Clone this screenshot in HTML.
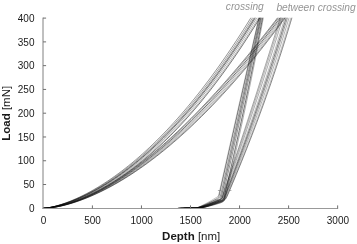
<!DOCTYPE html>
<html><head><meta charset="utf-8"><title>Load-Depth</title>
<style>
html,body{margin:0;padding:0;background:#fff;}
body{width:357px;height:244px;overflow:hidden;position:relative;font-family:"Liberation Sans",Arial,sans-serif;}
svg{position:absolute;left:0;top:0;}
text{font-family:"Liberation Sans",Arial,sans-serif;}
</style></head><body>
<svg width="357" height="244" viewBox="0 0 357 244">
<rect width="357" height="244" fill="#fff"/>
<defs><clipPath id="c"><rect x="43" y="17.7" width="300" height="191"/></clipPath></defs>
<g clip-path="url(#c)" fill="none" stroke-linejoin="round">
<g stroke="#0a0a0a" stroke-width="0.62">
<path d="M43.35,208.30 L44.58,208.23 L45.80,208.12 L47.03,207.98 L48.26,207.81 L49.48,207.63 L50.71,207.43 L51.93,207.21 L53.16,206.98 L54.39,206.73 L55.61,206.48 L56.84,206.20 L58.07,205.92 L59.29,205.62 L60.52,205.31 L61.74,204.99 L62.97,204.66 L64.20,204.32 L65.42,203.96 L66.65,203.59 L67.88,203.21 L69.10,202.83 L70.33,202.42 L71.55,202.01 L72.78,201.59 L76.26,200.34 L79.75,199.00 L83.23,197.57 L86.71,196.06 L90.20,194.47 L93.68,192.80 L97.16,191.05 L100.65,189.22 L104.13,187.31 L107.61,185.31 L111.10,183.24 L114.58,181.09 L118.06,178.86 L121.55,176.54 L125.03,174.15 L128.51,171.68 L132.00,169.12 L135.48,166.49 L138.96,163.77 L142.45,160.98 L145.93,158.10 L149.41,155.14 L152.89,152.11 L156.38,148.99 L159.86,145.79 L163.34,142.50 L166.83,139.14 L170.31,135.69 L173.79,132.16 L177.28,128.55 L180.76,124.85 L184.24,121.07 L187.73,117.21 L191.21,113.26 L194.69,109.23 L198.18,105.11 L201.66,100.91 L205.14,96.62 L208.63,92.25 L212.11,87.80 L215.59,83.25 L219.08,78.62 L222.56,73.91 L226.04,69.10 L229.53,64.21 L233.01,59.23 L236.49,54.17 L239.98,49.01 L243.46,43.77 L246.94,38.44 L250.43,33.01 L253.91,27.50 L257.39,21.90 L260.88,16.21 L264.36,10.43 L267.84,4.55 L271.33,-1.41 L274.81,-7.47 L278.29,-13.62 L281.78,-19.86 L285.26,-26.19 L288.74,-32.62 L292.23,-39.14 L295.71,-45.75 L299.19,-52.46 L302.68,-59.26 L306.16,-66.16 L309.64,-73.15 L313.13,-80.24" stroke-opacity="0.91"/>
<path d="M43.35,208.30 L44.58,208.24 L45.80,208.12 L47.03,207.97 L48.26,207.81 L49.48,207.62 L50.71,207.41 L51.93,207.19 L53.16,206.95 L54.39,206.69 L55.61,206.43 L56.84,206.15 L58.07,205.85 L59.29,205.54 L60.52,205.23 L61.74,204.89 L62.97,204.55 L64.20,204.19 L65.42,203.83 L66.65,203.45 L67.88,203.06 L69.10,202.66 L70.33,202.25 L71.55,201.82 L72.78,201.39 L76.26,200.10 L79.75,198.72 L83.23,197.26 L86.71,195.72 L90.20,194.09 L93.68,192.38 L97.16,190.59 L100.65,188.72 L104.13,186.77 L107.61,184.74 L111.10,182.63 L114.58,180.44 L118.06,178.16 L121.55,175.81 L125.03,173.38 L128.51,170.87 L132.00,168.27 L135.48,165.60 L138.96,162.85 L142.45,160.01 L145.93,157.10 L149.41,154.11 L152.89,151.03 L156.38,147.87 L159.86,144.63 L163.34,141.31 L166.83,137.91 L170.31,134.43 L173.79,130.86 L177.28,127.21 L180.76,123.48 L184.24,119.67 L187.73,115.77 L191.21,111.79 L194.69,107.72 L198.18,103.57 L201.66,99.34 L205.14,95.02 L208.63,90.61 L212.11,86.12 L215.59,81.55 L219.08,76.89 L222.56,72.14 L226.04,67.31 L229.53,62.39 L233.01,57.38 L236.49,52.29 L239.98,47.10 L243.46,41.83 L246.94,36.47 L250.43,31.03 L253.91,25.49 L257.39,19.86 L260.88,14.15 L264.36,8.34 L267.84,2.44 L271.33,-3.54 L274.81,-9.62 L278.29,-15.79 L281.78,-22.05 L285.26,-28.41 L288.74,-34.85 L292.23,-41.39 L295.71,-48.02 L299.19,-54.75 L302.68,-61.57 L306.16,-68.48 L309.64,-75.49 L313.13,-82.59" stroke-opacity="0.49"/>
<path d="M43.35,208.30 L44.58,208.24 L45.80,208.12 L47.03,207.97 L48.26,207.80 L49.48,207.60 L50.71,207.38 L51.93,207.15 L53.16,206.90 L54.39,206.64 L55.61,206.36 L56.84,206.06 L58.07,205.75 L59.29,205.43 L60.52,205.10 L61.74,204.75 L62.97,204.39 L64.20,204.02 L65.42,203.64 L66.65,203.24 L67.88,202.84 L69.10,202.42 L70.33,201.99 L71.55,201.55 L72.78,201.10 L76.26,199.76 L79.75,198.33 L83.23,196.82 L86.71,195.22 L90.20,193.54 L93.68,191.78 L97.16,189.94 L100.65,188.01 L104.13,186.00 L107.61,183.92 L111.10,181.75 L114.58,179.50 L118.06,177.17 L121.55,174.76 L125.03,172.28 L128.51,169.71 L132.00,167.06 L135.48,164.33 L138.96,161.52 L142.45,158.63 L145.93,155.67 L149.41,152.62 L152.89,149.49 L156.38,146.27 L159.86,142.98 L163.34,139.61 L166.83,136.15 L170.31,132.62 L173.79,129.00 L177.28,125.30 L180.76,121.52 L184.24,117.65 L187.73,113.70 L191.21,109.67 L194.69,105.56 L198.18,101.36 L201.66,97.08 L205.14,92.71 L208.63,88.26 L212.11,83.73 L215.59,79.11 L219.08,74.40 L222.56,69.61 L226.04,64.74 L229.53,59.78 L233.01,54.73 L236.49,49.59 L239.98,44.37 L243.46,39.06 L246.94,33.66 L250.43,28.18 L253.91,22.60 L257.39,16.94 L260.88,11.19 L264.36,5.35 L267.84,-0.58 L271.33,-6.60 L274.81,-12.71 L278.29,-18.91 L281.78,-25.20 L285.26,-31.58 L288.74,-38.05 L292.23,-44.62 L295.71,-51.28 L299.19,-58.03 L302.68,-64.87 L306.16,-71.81 L309.64,-78.84 L313.13,-85.96" stroke-opacity="0.51"/>
<path d="M43.35,208.30 L44.58,208.24 L45.80,208.12 L47.03,207.97 L48.26,207.79 L49.48,207.59 L50.71,207.36 L51.93,207.12 L53.16,206.86 L54.39,206.58 L55.61,206.29 L56.84,205.99 L58.07,205.67 L59.29,205.33 L60.52,204.99 L61.74,204.63 L62.97,204.25 L64.20,203.87 L65.42,203.47 L66.65,203.06 L67.88,202.64 L69.10,202.21 L70.33,201.77 L71.55,201.31 L72.78,200.84 L76.26,199.46 L79.75,197.99 L83.23,196.43 L86.71,194.78 L90.20,193.05 L93.68,191.24 L97.16,189.35 L100.65,187.38 L104.13,185.32 L107.61,183.18 L111.10,180.97 L114.58,178.67 L118.06,176.29 L121.55,173.83 L125.03,171.29 L128.51,168.68 L132.00,165.98 L135.48,163.20 L138.96,160.34 L142.45,157.41 L145.93,154.39 L149.41,151.29 L152.89,148.11 L156.38,144.85 L159.86,141.51 L163.34,138.09 L166.83,134.59 L170.31,131.01 L173.79,127.34 L177.28,123.60 L180.76,119.77 L184.24,115.86 L187.73,111.87 L191.21,107.79 L194.69,103.63 L198.18,99.39 L201.66,95.07 L205.14,90.66 L208.63,86.17 L212.11,81.60 L215.59,76.94 L219.08,72.19 L222.56,67.36 L226.04,62.45 L229.53,57.45 L233.01,52.36 L236.49,47.19 L239.98,41.94 L243.46,36.59 L246.94,31.16 L250.43,25.64 L253.91,20.04 L257.39,14.34 L260.88,8.56 L264.36,2.69 L267.84,-3.27 L271.33,-9.32 L274.81,-15.46 L278.29,-21.68 L281.78,-28.00 L285.26,-34.41 L288.74,-40.91 L292.23,-47.50 L295.71,-54.18 L299.19,-60.95 L302.68,-67.81 L306.16,-74.77 L309.64,-81.82 L313.13,-88.96" stroke-opacity="0.92"/>
<path d="M43.35,208.30 L44.58,208.24 L45.80,208.13 L47.03,207.97 L48.26,207.79 L49.48,207.58 L50.71,207.35 L51.93,207.10 L53.16,206.83 L54.39,206.55 L55.61,206.25 L56.84,205.93 L58.07,205.61 L59.29,205.26 L60.52,204.91 L61.74,204.54 L62.97,204.16 L64.20,203.76 L65.42,203.35 L66.65,202.94 L67.88,202.51 L69.10,202.06 L70.33,201.61 L71.55,201.14 L72.78,200.67 L76.26,199.25 L79.75,197.74 L83.23,196.15 L86.71,194.48 L90.20,192.72 L93.68,190.87 L97.16,188.95 L100.65,186.94 L104.13,184.85 L107.61,182.68 L111.10,180.42 L114.58,178.09 L118.06,175.68 L121.55,173.19 L125.03,170.62 L128.51,167.96 L132.00,165.23 L135.48,162.42 L138.96,159.53 L142.45,156.56 L145.93,153.50 L149.41,150.37 L152.89,147.16 L156.38,143.87 L159.86,140.49 L163.34,137.04 L166.83,133.51 L170.31,129.89 L173.79,126.20 L177.28,122.42 L180.76,118.56 L184.24,114.62 L187.73,110.60 L191.21,106.49 L194.69,102.30 L198.18,98.03 L201.66,93.68 L205.14,89.24 L208.63,84.72 L212.11,80.12 L215.59,75.43 L219.08,70.66 L222.56,65.81 L226.04,60.87 L229.53,55.84 L233.01,50.73 L236.49,45.53 L239.98,40.25 L243.46,34.88 L246.94,29.43 L250.43,23.89 L253.91,18.26 L257.39,12.54 L260.88,6.74 L264.36,0.85 L267.84,-5.13 L271.33,-11.20 L274.81,-17.35 L278.29,-23.60 L281.78,-29.94 L285.26,-36.36 L288.74,-42.88 L292.23,-49.48 L295.71,-56.18 L299.19,-62.97 L302.68,-69.85 L306.16,-76.82 L309.64,-83.88 L313.13,-91.03" stroke-opacity="0.76"/>
<path d="M43.35,208.30 L44.58,208.25 L45.80,208.13 L47.03,207.97 L48.26,207.78 L49.48,207.56 L50.71,207.32 L51.93,207.07 L53.16,206.79 L54.39,206.49 L55.61,206.18 L56.84,205.86 L58.07,205.52 L59.29,205.16 L60.52,204.79 L61.74,204.41 L62.97,204.01 L64.20,203.61 L65.42,203.19 L66.65,202.75 L67.88,202.31 L69.10,201.85 L70.33,201.38 L71.55,200.90 L72.78,200.41 L76.26,198.94 L79.75,197.39 L83.23,195.76 L86.71,194.03 L90.20,192.22 L93.68,190.33 L97.16,188.35 L100.65,186.30 L104.13,184.16 L107.61,181.94 L111.10,179.63 L114.58,177.25 L118.06,174.79 L121.55,172.25 L125.03,169.63 L128.51,166.92 L132.00,164.14 L135.48,161.28 L138.96,158.34 L142.45,155.32 L145.93,152.22 L149.41,149.03 L152.89,145.77 L156.38,142.43 L159.86,139.01 L163.34,135.51 L166.83,131.93 L170.31,128.27 L173.79,124.52 L177.28,120.70 L180.76,116.80 L184.24,112.81 L187.73,108.74 L191.21,104.59 L194.69,100.36 L198.18,96.05 L201.66,91.65 L205.14,87.18 L208.63,82.62 L212.11,77.97 L215.59,73.24 L219.08,68.43 L222.56,63.54 L226.04,58.56 L229.53,53.50 L233.01,48.35 L236.49,43.12 L239.98,37.80 L243.46,32.40 L246.94,26.91 L250.43,21.33 L253.91,15.67 L257.39,9.92 L260.88,4.09 L264.36,-1.83 L267.84,-7.84 L271.33,-13.94 L274.81,-20.12 L278.29,-26.40 L281.78,-32.76 L285.26,-39.21 L288.74,-45.75 L292.23,-52.38 L295.71,-59.10 L299.19,-65.91 L302.68,-72.81 L306.16,-79.80 L309.64,-86.88 L313.13,-94.06" stroke-opacity="0.63"/>
<path d="M43.35,208.30 L44.58,208.25 L45.80,208.13 L47.03,207.97 L48.26,207.77 L49.48,207.55 L50.71,207.30 L51.93,207.03 L53.16,206.74 L54.39,206.44 L55.61,206.11 L56.84,205.77 L58.07,205.42 L59.29,205.05 L60.52,204.67 L61.74,204.27 L62.97,203.86 L64.20,203.43 L65.42,203.00 L66.65,202.55 L67.88,202.09 L69.10,201.61 L70.33,201.13 L71.55,200.63 L72.78,200.12 L76.26,198.61 L79.75,197.01 L83.23,195.32 L86.71,193.54 L90.20,191.68 L93.68,189.73 L97.16,187.70 L100.65,185.59 L104.13,183.39 L107.61,181.12 L111.10,178.76 L114.58,176.32 L118.06,173.81 L121.55,171.21 L125.03,168.53 L128.51,165.77 L132.00,162.94 L135.48,160.02 L138.96,157.02 L142.45,153.95 L145.93,150.79 L149.41,147.56 L152.89,144.24 L156.38,140.85 L159.86,137.37 L163.34,133.82 L166.83,130.19 L170.31,126.47 L173.79,122.68 L177.28,118.80 L180.76,114.85 L184.24,110.81 L187.73,106.69 L191.21,102.50 L194.69,98.22 L198.18,93.86 L201.66,89.41 L205.14,84.89 L208.63,80.28 L212.11,75.59 L215.59,70.82 L219.08,65.97 L222.56,61.03 L226.04,56.01 L229.53,50.90 L233.01,45.72 L236.49,40.44 L239.98,35.09 L243.46,29.64 L246.94,24.12 L250.43,18.51 L253.91,12.81 L257.39,7.02 L260.88,1.16 L264.36,-4.80 L267.84,-10.84 L271.33,-16.97 L274.81,-23.19 L278.29,-29.49 L281.78,-35.88 L285.26,-42.36 L288.74,-48.93 L292.23,-55.58 L295.71,-62.33 L299.19,-69.16 L302.68,-76.09 L306.16,-83.10 L309.64,-90.21 L313.13,-97.40" stroke-opacity="0.71"/>
<path d="M265.91,-12.00 L264.94,-7.72 L263.97,-3.44 L263.01,0.84 L262.04,5.12 L261.07,9.40 L260.11,13.68 L259.14,17.96 L258.17,22.24 L257.20,26.52 L256.24,30.80 L255.27,35.09 L254.31,39.37 L253.34,43.65 L252.37,47.93 L251.41,52.21 L250.44,56.49 L249.48,60.77 L248.51,65.05 L247.54,69.33 L246.58,73.61 L245.61,77.89 L244.65,82.17 L243.68,86.45 L242.72,90.73 L241.75,95.01 L240.79,99.29 L239.82,103.57 L238.86,107.85 L237.89,112.13 L236.93,116.41 L235.97,120.69 L235.00,124.98 L234.04,129.26 L233.07,133.54 L232.11,137.82 L231.15,142.10 L230.18,146.38 L229.22,150.66 L228.25,154.94 L227.29,159.22 L226.33,163.50 L225.36,167.78 L224.40,172.06 L223.44,176.34 L222.48,180.62 L221.51,184.90 L220.55,189.18 L219.59,193.46 L219.06,195.79 L218.91,196.33 L218.70,196.83 L218.44,197.28 L218.13,197.69 L217.76,198.07 L217.34,198.40 L216.86,198.69 L216.21,199.04 L215.01,199.67 L213.80,200.30 L212.60,200.92 L211.39,201.53 L210.19,202.13 L208.98,202.72 L207.78,203.31 L206.57,203.88 L205.37,204.43 L204.16,204.98 L202.96,205.50 L201.75,206.01 L200.55,206.50 L199.34,206.97 L198.14,207.41 L196.93,207.80 L195.73,208.10 L180.50,208.20" stroke-opacity="0.79"/>
<path d="M266.53,-12.00 L265.60,-7.71 L264.67,-3.42 L263.74,0.87 L262.81,5.16 L261.87,9.46 L260.94,13.75 L260.00,18.04 L259.07,22.33 L258.13,26.62 L257.19,30.91 L256.26,35.20 L255.32,39.49 L254.38,43.78 L253.43,48.08 L252.49,52.37 L251.55,56.66 L250.61,60.95 L249.66,65.24 L248.71,69.53 L247.77,73.82 L246.82,78.11 L245.87,82.40 L244.92,86.69 L243.97,90.99 L243.02,95.28 L242.07,99.57 L241.11,103.86 L240.16,108.15 L239.21,112.44 L238.25,116.73 L237.29,121.02 L236.33,125.31 L235.38,129.61 L234.42,133.90 L233.46,138.19 L232.49,142.48 L231.53,146.77 L230.57,151.06 L229.60,155.35 L228.64,159.64 L227.67,163.93 L226.71,168.23 L225.74,172.52 L224.77,176.81 L223.80,181.10 L222.83,185.39 L221.86,189.68 L220.88,193.97 L220.35,196.31 L220.20,196.85 L219.99,197.34 L219.72,197.79 L219.40,198.19 L219.03,198.55 L218.60,198.87 L218.11,199.14 L217.38,199.49 L216.11,200.10 L214.84,200.69 L213.57,201.28 L212.31,201.86 L211.04,202.43 L209.77,202.99 L208.50,203.55 L207.24,204.09 L205.97,204.62 L204.70,205.13 L203.44,205.63 L202.17,206.12 L200.90,206.58 L199.63,207.03 L198.37,207.44 L197.10,207.81 L195.83,208.10 L184.32,208.20" stroke-opacity="0.71"/>
<path d="M267.02,-12.00 L266.12,-7.70 L265.22,-3.39 L264.32,0.91 L263.41,5.21 L262.50,9.52 L261.60,13.82 L260.69,18.12 L259.77,22.43 L258.86,26.73 L257.94,31.04 L257.03,35.34 L256.11,39.64 L255.19,43.95 L254.27,48.25 L253.34,52.55 L252.42,56.86 L251.49,61.16 L250.56,65.46 L249.63,69.77 L248.70,74.07 L247.76,78.37 L246.82,82.68 L245.89,86.98 L244.95,91.28 L244.00,95.59 L243.06,99.89 L242.12,104.20 L241.17,108.50 L240.22,112.80 L239.27,117.11 L238.32,121.41 L237.37,125.71 L236.41,130.02 L235.45,134.32 L234.49,138.62 L233.53,142.93 L232.57,147.23 L231.61,151.53 L230.64,155.84 L229.67,160.14 L228.70,164.44 L227.73,168.75 L226.76,173.05 L225.78,177.35 L224.81,181.66 L223.83,185.96 L222.85,190.27 L221.87,194.57 L221.33,196.92 L221.17,197.46 L220.96,197.94 L220.69,198.38 L220.37,198.78 L219.99,199.13 L219.55,199.43 L219.05,199.68 L218.27,200.03 L216.96,200.59 L215.65,201.15 L214.34,201.70 L213.03,202.25 L211.73,202.78 L210.42,203.31 L209.11,203.83 L207.80,204.34 L206.50,204.83 L205.19,205.32 L203.88,205.79 L202.57,206.24 L201.26,206.68 L199.96,207.09 L198.65,207.48 L197.34,207.83 L196.03,208.10 L181.47,208.20" stroke-opacity="0.86"/>
<path d="M267.57,-12.00 L266.71,-7.70 L265.84,-3.39 L264.97,0.91 L264.10,5.21 L263.23,9.51 L262.35,13.82 L261.47,18.12 L260.59,22.42 L259.70,26.72 L258.82,31.03 L257.93,35.33 L257.03,39.63 L256.14,43.94 L255.24,48.24 L254.34,52.54 L253.44,56.84 L252.53,61.15 L251.62,65.45 L250.71,69.75 L249.80,74.06 L248.88,78.36 L247.96,82.66 L247.04,86.96 L246.11,91.27 L245.19,95.57 L244.26,99.87 L243.33,104.17 L242.39,108.48 L241.45,112.78 L240.51,117.08 L239.57,121.39 L238.62,125.69 L237.67,129.99 L236.72,134.29 L235.77,138.60 L234.81,142.90 L233.85,147.20 L232.89,151.50 L231.93,155.81 L230.96,160.11 L229.99,164.41 L229.02,168.72 L228.04,173.02 L227.06,177.32 L226.08,181.62 L225.10,185.93 L224.11,190.23 L223.13,194.53 L222.58,196.89 L222.43,197.42 L222.21,197.91 L221.94,198.34 L221.62,198.73 L221.23,199.08 L220.79,199.37 L220.30,199.62 L219.42,199.99 L218.06,200.56 L216.71,201.12 L215.35,201.68 L213.99,202.22 L212.63,202.76 L211.28,203.29 L209.92,203.81 L208.56,204.32 L207.21,204.82 L205.85,205.30 L204.49,205.78 L203.14,206.23 L201.78,206.67 L200.42,207.09 L199.06,207.48 L197.71,207.83 L196.35,208.10 L185.12,208.20" stroke-opacity="0.72"/>
<path d="M268.30,-12.00 L267.48,-7.68 L266.66,-3.37 L265.84,0.95 L265.01,5.27 L264.17,9.59 L263.34,13.90 L262.49,18.22 L261.65,22.54 L260.80,26.85 L259.95,31.17 L259.09,35.49 L258.23,39.80 L257.37,44.12 L256.50,48.44 L255.62,52.76 L254.75,57.07 L253.87,61.39 L252.98,65.71 L252.09,70.02 L251.20,74.34 L250.31,78.66 L249.41,82.98 L248.50,87.29 L247.59,91.61 L246.68,95.93 L245.77,100.24 L244.85,104.56 L243.92,108.88 L243.00,113.20 L242.07,117.51 L241.13,121.83 L240.19,126.15 L239.25,130.46 L238.30,134.78 L237.35,139.10 L236.40,143.41 L235.44,147.73 L234.47,152.05 L233.51,156.37 L232.54,160.68 L231.56,165.00 L230.59,169.32 L229.60,173.63 L228.62,177.95 L227.63,182.27 L226.63,186.59 L225.64,190.90 L224.63,195.22 L224.08,197.59 L223.92,198.12 L223.71,198.60 L223.43,199.03 L223.10,199.41 L222.71,199.74 L222.26,200.02 L221.76,200.25 L220.82,200.61 L219.41,201.13 L218.01,201.65 L216.60,202.16 L215.20,202.67 L213.79,203.17 L212.39,203.66 L210.99,204.14 L209.58,204.61 L208.18,205.07 L206.77,205.52 L205.37,205.95 L203.96,206.37 L202.56,206.78 L201.15,207.17 L199.75,207.53 L198.34,207.85 L196.94,208.10 L183.22,208.20" stroke-opacity="0.94"/>
<path d="M268.82,-12.00 L268.03,-7.68 L267.24,-3.36 L266.45,0.97 L265.65,5.29 L264.84,9.61 L264.04,13.93 L263.22,18.25 L262.40,22.57 L261.58,26.90 L260.75,31.22 L259.92,35.54 L259.08,39.86 L258.24,44.18 L257.40,48.50 L256.54,52.83 L255.69,57.15 L254.83,61.47 L253.96,65.79 L253.09,70.11 L252.21,74.43 L251.33,78.76 L250.45,83.08 L249.56,87.40 L248.66,91.72 L247.76,96.04 L246.86,100.36 L245.95,104.69 L245.04,109.01 L244.12,113.33 L243.19,117.65 L242.27,121.97 L241.33,126.29 L240.39,130.62 L239.45,134.94 L238.50,139.26 L237.55,143.58 L236.60,147.90 L235.63,152.22 L234.67,156.55 L233.70,160.87 L232.72,165.19 L231.74,169.51 L230.75,173.83 L229.76,178.15 L228.77,182.48 L227.77,186.80 L226.76,191.12 L225.75,195.44 L225.19,197.81 L225.03,198.35 L224.82,198.83 L224.54,199.26 L224.21,199.63 L223.82,199.96 L223.37,200.24 L222.87,200.47 L221.95,200.80 L220.56,201.32 L219.17,201.82 L217.77,202.32 L216.38,202.81 L214.99,203.30 L213.59,203.77 L212.20,204.24 L210.81,204.70 L209.42,205.15 L208.02,205.58 L206.63,206.01 L205.24,206.42 L203.84,206.81 L202.45,207.19 L201.06,207.54 L199.66,207.86 L198.27,208.10 L179.35,208.20" stroke-opacity="0.55"/>
<path d="M43.35,208.30 L44.58,208.29 L45.80,208.24 L47.03,208.17 L48.26,208.07 L49.48,207.95 L50.71,207.82 L51.93,207.66 L53.16,207.49 L54.39,207.30 L55.61,207.10 L56.84,206.88 L58.07,206.65 L59.29,206.40 L60.52,206.15 L61.74,205.87 L62.97,205.59 L64.20,205.29 L65.42,204.99 L66.65,204.67 L67.88,204.33 L69.10,203.99 L70.33,203.64 L71.55,203.27 L72.78,202.90 L76.26,201.77 L79.75,200.57 L83.23,199.28 L86.71,197.92 L90.20,196.48 L93.68,194.97 L97.16,193.39 L100.65,191.74 L104.13,190.01 L107.61,188.22 L111.10,186.36 L114.58,184.44 L118.06,182.45 L121.55,180.39 L125.03,178.27 L128.51,176.09 L132.00,173.84 L135.48,171.53 L138.96,169.16 L142.45,166.73 L145.93,164.24 L149.41,161.68 L152.89,159.07 L156.38,156.40 L159.86,153.66 L163.34,150.87 L166.83,148.02 L170.31,145.11 L173.79,142.15 L177.28,139.12 L180.76,136.04 L184.24,132.90 L187.73,129.70 L191.21,126.45 L194.69,123.14 L198.18,119.77 L201.66,116.34 L205.14,112.86 L208.63,109.33 L212.11,105.73 L215.59,102.08 L219.08,98.38 L222.56,94.62 L226.04,90.80 L229.53,86.93 L233.01,83.01 L236.49,79.02 L239.98,74.99 L243.46,70.90 L246.94,66.75 L250.43,62.55 L253.91,58.29 L257.39,53.98 L260.88,49.62 L264.36,45.20 L267.84,40.72 L271.33,36.19 L274.81,31.61 L278.29,26.97 L281.78,22.28 L285.26,17.54 L288.74,12.74 L292.23,7.89 L295.71,2.98 L299.19,-1.98 L302.68,-7.00 L306.16,-12.06 L309.64,-17.19 L313.13,-22.36" stroke-opacity="0.80"/>
<path d="M43.35,208.30 L44.58,208.27 L45.80,208.22 L47.03,208.14 L48.26,208.04 L49.48,207.92 L50.71,207.78 L51.93,207.62 L53.16,207.45 L54.39,207.26 L55.61,207.05 L56.84,206.83 L58.07,206.60 L59.29,206.35 L60.52,206.09 L61.74,205.81 L62.97,205.52 L64.20,205.22 L65.42,204.91 L66.65,204.59 L67.88,204.25 L69.10,203.90 L70.33,203.55 L71.55,203.18 L72.78,202.80 L76.26,201.66 L79.75,200.43 L83.23,199.13 L86.71,197.75 L90.20,196.29 L93.68,194.76 L97.16,193.15 L100.65,191.47 L104.13,189.72 L107.61,187.91 L111.10,186.02 L114.58,184.07 L118.06,182.05 L121.55,179.96 L125.03,177.81 L128.51,175.59 L132.00,173.32 L135.48,170.98 L138.96,168.57 L142.45,166.11 L145.93,163.58 L149.41,161.00 L152.89,158.35 L156.38,155.64 L159.86,152.88 L163.34,150.06 L166.83,147.17 L170.31,144.23 L173.79,141.23 L177.28,138.18 L180.76,135.07 L184.24,131.90 L187.73,128.67 L191.21,125.39 L194.69,122.05 L198.18,118.66 L201.66,115.21 L205.14,111.70 L208.63,108.14 L212.11,104.53 L215.59,100.86 L219.08,97.14 L222.56,93.36 L226.04,89.53 L229.53,85.64 L233.01,81.70 L236.49,77.71 L239.98,73.66 L243.46,69.56 L246.94,65.41 L250.43,61.20 L253.91,56.95 L257.39,52.63 L260.88,48.27 L264.36,43.86 L267.84,39.39 L271.33,34.87 L274.81,30.29 L278.29,25.67 L281.78,20.99 L285.26,16.27 L288.74,11.49 L292.23,6.66 L295.71,1.77 L299.19,-3.16 L302.68,-8.15 L306.16,-13.18 L309.64,-18.27 L313.13,-23.41" stroke-opacity="0.62"/>
<path d="M43.35,208.30 L44.58,208.26 L45.80,208.20 L47.03,208.12 L48.26,208.01 L49.48,207.88 L50.71,207.74 L51.93,207.57 L53.16,207.39 L54.39,207.20 L55.61,206.99 L56.84,206.76 L58.07,206.52 L59.29,206.27 L60.52,206.00 L61.74,205.72 L62.97,205.43 L64.20,205.12 L65.42,204.81 L66.65,204.48 L67.88,204.13 L69.10,203.78 L70.33,203.42 L71.55,203.04 L72.78,202.65 L76.26,201.49 L79.75,200.25 L83.23,198.92 L86.71,197.51 L90.20,196.02 L93.68,194.46 L97.16,192.82 L100.65,191.11 L104.13,189.32 L107.61,187.47 L111.10,185.54 L114.58,183.55 L118.06,181.49 L121.55,179.36 L125.03,177.17 L128.51,174.91 L132.00,172.59 L135.48,170.20 L138.96,167.75 L142.45,165.24 L145.93,162.67 L149.41,160.04 L152.89,157.35 L156.38,154.60 L159.86,151.79 L163.34,148.92 L166.83,145.99 L170.31,143.01 L173.79,139.96 L177.28,136.87 L180.76,133.71 L184.24,130.50 L187.73,127.23 L191.21,123.91 L194.69,120.54 L198.18,117.11 L201.66,113.62 L205.14,110.09 L208.63,106.49 L212.11,102.85 L215.59,99.15 L219.08,95.40 L222.56,91.60 L226.04,87.75 L229.53,83.84 L233.01,79.88 L236.49,75.87 L239.98,71.82 L243.46,67.70 L246.94,63.54 L250.43,59.33 L253.91,55.07 L257.39,50.76 L260.88,46.40 L264.36,41.99 L267.84,37.53 L271.33,33.02 L274.81,28.46 L278.29,23.85 L281.78,19.20 L285.26,14.49 L288.74,9.74 L292.23,4.94 L295.71,0.09 L299.19,-4.80 L302.68,-9.75 L306.16,-14.74 L309.64,-19.78 L313.13,-24.86" stroke-opacity="0.46"/>
<path d="M43.35,208.30 L44.58,208.25 L45.80,208.18 L47.03,208.09 L48.26,207.97 L49.48,207.84 L50.71,207.69 L51.93,207.52 L53.16,207.34 L54.39,207.14 L55.61,206.92 L56.84,206.69 L58.07,206.45 L59.29,206.19 L60.52,205.92 L61.74,205.63 L62.97,205.33 L64.20,205.02 L65.42,204.70 L66.65,204.37 L67.88,204.02 L69.10,203.66 L70.33,203.29 L71.55,202.90 L72.78,202.51 L76.26,201.33 L79.75,200.06 L83.23,198.71 L86.71,197.27 L90.20,195.76 L93.68,194.16 L97.16,192.49 L100.65,190.75 L104.13,188.93 L107.61,187.03 L111.10,185.07 L114.58,183.04 L118.06,180.94 L121.55,178.77 L125.03,176.53 L128.51,174.23 L132.00,171.86 L135.48,169.43 L138.96,166.94 L142.45,164.39 L145.93,161.77 L149.41,159.09 L152.89,156.36 L156.38,153.56 L159.86,150.70 L163.34,147.79 L166.83,144.82 L170.31,141.79 L173.79,138.71 L177.28,135.57 L180.76,132.37 L184.24,129.12 L187.73,125.81 L191.21,122.45 L194.69,119.04 L198.18,115.58 L201.66,112.06 L205.14,108.49 L208.63,104.86 L212.11,101.19 L215.59,97.46 L219.08,93.69 L222.56,89.86 L226.04,85.99 L229.53,82.06 L233.01,78.08 L236.49,74.06 L239.98,69.99 L243.46,65.87 L246.94,61.70 L250.43,57.48 L253.91,53.21 L257.39,48.90 L260.88,44.54 L264.36,40.14 L267.84,35.69 L271.33,31.19 L274.81,26.64 L278.29,22.05 L281.78,17.42 L285.26,12.74 L288.74,8.01 L292.23,3.24 L295.71,-1.57 L299.19,-6.43 L302.68,-11.33 L306.16,-16.28 L309.64,-21.27 L313.13,-26.30" stroke-opacity="0.53"/>
<path d="M43.35,208.30 L44.58,208.23 L45.80,208.16 L47.03,208.06 L48.26,207.94 L49.48,207.80 L50.71,207.64 L51.93,207.47 L53.16,207.28 L54.39,207.08 L55.61,206.86 L56.84,206.62 L58.07,206.37 L59.29,206.11 L60.52,205.84 L61.74,205.55 L62.97,205.24 L64.20,204.93 L65.42,204.60 L66.65,204.26 L67.88,203.90 L69.10,203.54 L70.33,203.16 L71.55,202.77 L72.78,202.37 L76.26,201.17 L79.75,199.88 L83.23,198.50 L86.71,197.04 L90.20,195.50 L93.68,193.87 L97.16,192.17 L100.65,190.39 L104.13,188.53 L107.61,186.60 L111.10,184.60 L114.58,182.53 L118.06,180.39 L121.55,178.18 L125.03,175.90 L128.51,173.56 L132.00,171.15 L135.48,168.68 L138.96,166.14 L142.45,163.54 L145.93,160.88 L149.41,158.16 L152.89,155.37 L156.38,152.53 L159.86,149.63 L163.34,146.67 L166.83,143.66 L170.31,140.59 L173.79,137.46 L177.28,134.28 L180.76,131.04 L184.24,127.75 L187.73,124.41 L191.21,121.01 L194.69,117.56 L198.18,114.06 L201.66,110.50 L205.14,106.90 L208.63,103.25 L212.11,99.54 L215.59,95.79 L219.08,91.99 L222.56,88.14 L226.04,84.24 L229.53,80.30 L233.01,76.30 L236.49,72.26 L239.98,68.18 L243.46,64.05 L246.94,59.87 L250.43,55.65 L253.91,51.38 L257.39,47.06 L260.88,42.71 L264.36,38.31 L267.84,33.86 L271.33,29.38 L274.81,24.85 L278.29,20.27 L281.78,15.66 L285.26,11.00 L288.74,6.30 L292.23,1.56 L295.71,-3.22 L299.19,-8.04 L302.68,-12.90 L306.16,-17.81 L309.64,-22.75 L313.13,-27.73" stroke-opacity="0.95"/>
<path d="M43.35,208.30 L44.58,208.22 L45.80,208.13 L47.03,208.02 L48.26,207.90 L49.48,207.75 L50.71,207.59 L51.93,207.41 L53.16,207.22 L54.39,207.01 L55.61,206.78 L56.84,206.54 L58.07,206.29 L59.29,206.02 L60.52,205.74 L61.74,205.45 L62.97,205.14 L64.20,204.82 L65.42,204.48 L66.65,204.13 L67.88,203.77 L69.10,203.40 L70.33,203.02 L71.55,202.62 L72.78,202.21 L76.26,200.99 L79.75,199.67 L83.23,198.26 L86.71,196.77 L90.20,195.20 L93.68,193.54 L97.16,191.80 L100.65,189.98 L104.13,188.08 L107.61,186.11 L111.10,184.07 L114.58,181.95 L118.06,179.77 L121.55,177.51 L125.03,175.18 L128.51,172.79 L132.00,170.33 L135.48,167.81 L138.96,165.22 L142.45,162.57 L145.93,159.86 L149.41,157.08 L152.89,154.25 L156.38,151.36 L159.86,148.41 L163.34,145.40 L166.83,142.33 L170.31,139.21 L173.79,136.04 L177.28,132.81 L180.76,129.52 L184.24,126.19 L187.73,122.80 L191.21,119.36 L194.69,115.87 L198.18,112.32 L201.66,108.73 L205.14,105.09 L208.63,101.40 L212.11,97.67 L215.59,93.88 L219.08,90.05 L222.56,86.17 L226.04,82.25 L229.53,78.28 L233.01,74.27 L236.49,70.21 L239.98,66.11 L243.46,61.97 L246.94,57.78 L250.43,53.55 L253.91,49.28 L257.39,44.96 L260.88,40.61 L264.36,36.22 L267.84,31.78 L271.33,27.31 L274.81,22.79 L278.29,18.24 L281.78,13.65 L285.26,9.02 L288.74,4.35 L292.23,-0.36 L295.71,-5.10 L299.19,-9.88 L302.68,-14.70 L306.16,-19.55 L309.64,-24.44 L313.13,-29.36" stroke-opacity="0.68"/>
<path d="M43.35,208.30 L44.58,208.20 L45.80,208.11 L47.03,208.00 L48.26,207.87 L49.48,207.72 L50.71,207.56 L51.93,207.37 L53.16,207.18 L54.39,206.96 L55.61,206.74 L56.84,206.49 L58.07,206.24 L59.29,205.96 L60.52,205.68 L61.74,205.38 L62.97,205.07 L64.20,204.74 L65.42,204.40 L66.65,204.05 L67.88,203.69 L69.10,203.31 L70.33,202.92 L71.55,202.52 L72.78,202.10 L76.26,200.86 L79.75,199.53 L83.23,198.11 L86.71,196.59 L90.20,195.00 L93.68,193.31 L97.16,191.55 L100.65,189.71 L104.13,187.79 L107.61,185.79 L111.10,183.72 L114.58,181.57 L118.06,179.35 L121.55,177.06 L125.03,174.71 L128.51,172.28 L132.00,169.79 L135.48,167.23 L138.96,164.61 L142.45,161.93 L145.93,159.18 L149.41,156.37 L152.89,153.50 L156.38,150.58 L159.86,147.59 L163.34,144.55 L166.83,141.45 L170.31,138.30 L173.79,135.09 L177.28,131.83 L180.76,128.51 L184.24,125.15 L187.73,121.73 L191.21,118.26 L194.69,114.74 L198.18,111.17 L201.66,107.55 L205.14,103.89 L208.63,100.17 L212.11,96.42 L215.59,92.61 L219.08,88.76 L222.56,84.86 L226.04,80.92 L229.53,76.94 L233.01,72.91 L236.49,68.85 L239.98,64.73 L243.46,60.58 L246.94,56.39 L250.43,52.15 L253.91,47.88 L257.39,43.57 L260.88,39.22 L264.36,34.82 L267.84,30.40 L271.33,25.93 L274.81,21.43 L278.29,16.89 L281.78,12.31 L285.26,7.70 L288.74,3.05 L292.23,-1.63 L295.71,-6.35 L299.19,-11.10 L302.68,-15.89 L306.16,-20.71 L309.64,-25.56 L313.13,-30.45" stroke-opacity="0.80"/>
<path d="M289.35,-12.00 L288.05,-7.69 L286.74,-3.38 L285.42,0.93 L284.11,5.24 L282.79,9.55 L281.46,13.86 L280.14,18.17 L278.81,22.48 L277.48,26.79 L276.14,31.10 L274.80,35.41 L273.46,39.72 L272.11,44.03 L270.76,48.34 L269.41,52.65 L268.05,56.96 L266.70,61.27 L265.33,65.58 L263.97,69.89 L262.60,74.20 L261.23,78.51 L259.85,82.82 L258.47,87.13 L257.09,91.44 L255.70,95.75 L254.32,100.06 L252.92,104.37 L251.53,108.68 L250.13,112.99 L248.73,117.30 L247.32,121.61 L245.91,125.92 L244.50,130.23 L243.09,134.54 L241.67,138.85 L240.25,143.16 L238.82,147.47 L237.39,151.78 L235.96,156.09 L234.53,160.40 L233.09,164.71 L231.65,169.02 L230.20,173.33 L228.76,177.64 L227.31,181.95 L225.85,186.26 L224.39,190.57 L222.93,194.88 L222.11,197.30 L221.90,197.82 L221.65,198.29 L221.34,198.72 L220.99,199.10 L220.58,199.44 L220.13,199.73 L219.63,199.98 L218.85,200.30 L217.53,200.85 L216.22,201.39 L214.91,201.92 L213.60,202.45 L212.29,202.97 L210.98,203.48 L209.67,203.98 L208.36,204.47 L207.04,204.94 L205.73,205.41 L204.42,205.87 L203.11,206.30 L201.80,206.73 L200.49,207.13 L199.18,207.50 L197.87,207.84 L196.55,208.10 L178.03,208.20" stroke-opacity="0.61"/>
<path d="M290.45,-12.00 L289.15,-7.69 L287.85,-3.37 L286.55,0.94 L285.24,5.26 L283.92,9.57 L282.61,13.88 L281.28,18.20 L279.96,22.51 L278.63,26.83 L277.29,31.14 L275.95,35.46 L274.61,39.77 L273.26,44.08 L271.91,48.40 L270.55,52.71 L269.19,57.03 L267.82,61.34 L266.45,65.65 L265.08,69.97 L263.70,74.28 L262.32,78.60 L260.93,82.91 L259.54,87.23 L258.14,91.54 L256.74,95.85 L255.34,100.17 L253.93,104.48 L252.52,108.80 L251.10,113.11 L249.68,117.42 L248.25,121.74 L246.82,126.05 L245.38,130.37 L243.95,134.68 L242.50,139.00 L241.05,143.31 L239.60,147.62 L238.14,151.94 L236.68,156.25 L235.22,160.57 L233.75,164.88 L232.27,169.19 L230.79,173.51 L229.31,177.82 L227.82,182.14 L226.33,186.45 L224.84,190.76 L223.34,195.08 L222.49,197.50 L222.28,198.02 L222.02,198.49 L221.71,198.92 L221.35,199.31 L220.95,199.65 L220.50,199.94 L220.00,200.19 L219.31,200.48 L218.05,201.02 L216.80,201.54 L215.54,202.06 L214.28,202.58 L213.02,203.08 L211.76,203.58 L210.50,204.07 L209.24,204.55 L207.98,205.02 L206.72,205.47 L205.46,205.92 L204.21,206.35 L202.95,206.76 L201.69,207.15 L200.43,207.52 L199.17,207.85 L197.91,208.10 L177.73,208.20" stroke-opacity="0.49"/>
<path d="M291.82,-12.00 L290.54,-7.67 L289.25,-3.35 L287.95,0.98 L286.65,5.30 L285.34,9.63 L284.03,13.95 L282.71,18.28 L281.39,22.60 L280.06,26.93 L278.72,31.26 L277.38,35.58 L276.03,39.91 L274.68,44.23 L273.32,48.56 L271.96,52.88 L270.59,57.21 L269.21,61.54 L267.83,65.86 L266.44,70.19 L265.05,74.51 L263.65,78.84 L262.25,83.16 L260.84,87.49 L259.42,91.81 L258.00,96.14 L256.57,100.47 L255.14,104.79 L253.70,109.12 L252.26,113.44 L250.81,117.77 L249.35,122.09 L247.89,126.42 L246.42,130.74 L244.95,135.07 L243.47,139.40 L241.99,143.72 L240.50,148.05 L239.00,152.37 L237.50,156.70 L235.99,161.02 L234.48,165.35 L232.96,169.68 L231.44,174.00 L229.91,178.33 L228.37,182.65 L226.83,186.98 L225.28,191.30 L223.73,195.63 L222.85,198.07 L222.63,198.59 L222.37,199.05 L222.05,199.48 L221.69,199.85 L221.28,200.18 L220.82,200.46 L220.31,200.69 L219.58,200.97 L218.29,201.47 L216.99,201.97 L215.69,202.45 L214.40,202.93 L213.10,203.41 L211.81,203.87 L210.51,204.33 L209.22,204.78 L207.92,205.22 L206.62,205.64 L205.33,206.06 L204.03,206.46 L202.74,206.84 L201.44,207.21 L200.15,207.55 L198.85,207.86 L197.55,208.10 L178.29,208.20" stroke-opacity="0.54"/>
<path d="M293.76,-12.00 L292.49,-7.68 L291.22,-3.35 L289.94,0.97 L288.66,5.30 L287.37,9.62 L286.06,13.94 L284.76,18.27 L283.44,22.59 L282.12,26.92 L280.79,31.24 L279.45,35.57 L278.10,39.89 L276.75,44.21 L275.38,48.54 L274.02,52.86 L272.64,57.19 L271.25,61.51 L269.86,65.83 L268.46,70.16 L267.06,74.48 L265.64,78.81 L264.22,83.13 L262.79,87.45 L261.35,91.78 L259.91,96.10 L258.45,100.43 L256.99,104.75 L255.53,109.07 L254.05,113.40 L252.57,117.72 L251.08,122.05 L249.58,126.37 L248.07,130.70 L246.56,135.02 L245.04,139.34 L243.51,143.67 L241.98,147.99 L240.43,152.32 L238.88,156.64 L237.32,160.96 L235.76,165.29 L234.18,169.61 L232.60,173.94 L231.01,178.26 L229.42,182.58 L227.81,186.91 L226.20,191.23 L224.58,195.56 L223.66,198.01 L223.44,198.52 L223.16,198.99 L222.84,199.41 L222.48,199.78 L222.07,200.11 L221.61,200.39 L221.10,200.62 L220.38,200.91 L219.09,201.41 L217.80,201.91 L216.51,202.40 L215.23,202.89 L213.94,203.36 L212.65,203.83 L211.36,204.30 L210.07,204.75 L208.78,205.19 L207.49,205.62 L206.21,206.04 L204.92,206.44 L203.63,206.83 L202.34,207.20 L201.05,207.55 L199.76,207.86 L198.47,208.10 L183.68,208.20" stroke-opacity="0.46"/>
<path d="M294.98,-12.00 L293.72,-7.66 L292.46,-3.32 L291.19,1.02 L289.91,5.36 L288.62,9.70 L287.32,14.03 L286.01,18.37 L284.70,22.71 L283.37,27.05 L282.04,31.39 L280.69,35.73 L279.34,40.07 L277.98,44.41 L276.61,48.75 L275.24,53.09 L273.85,57.42 L272.45,61.76 L271.05,66.10 L269.64,70.44 L268.22,74.78 L266.79,79.12 L265.35,83.46 L263.90,87.80 L262.44,92.14 L260.97,96.48 L259.50,100.81 L258.02,105.15 L256.52,109.49 L255.02,113.83 L253.51,118.17 L251.99,122.51 L250.47,126.85 L248.93,131.19 L247.39,135.53 L245.83,139.87 L244.27,144.20 L242.70,148.54 L241.12,152.88 L239.53,157.22 L237.93,161.56 L236.32,165.90 L234.71,170.24 L233.08,174.58 L231.45,178.92 L229.81,183.26 L228.16,187.59 L226.50,191.93 L224.83,196.27 L223.87,198.75 L223.64,199.26 L223.37,199.72 L223.04,200.13 L222.67,200.50 L222.26,200.82 L221.79,201.10 L221.28,201.32 L220.68,201.55 L219.45,202.01 L218.21,202.46 L216.98,202.91 L215.74,203.35 L214.51,203.79 L213.28,204.21 L212.04,204.63 L210.81,205.05 L209.57,205.45 L208.34,205.84 L207.10,206.22 L205.87,206.59 L204.64,206.95 L203.40,207.28 L202.17,207.60 L200.93,207.88 L199.70,208.10 L179.35,208.20" stroke-opacity="0.87"/>
<path d="M296.18,-12.00 L294.94,-7.66 L293.69,-3.31 L292.42,1.03 L291.15,5.37 L289.87,9.72 L288.58,14.06 L287.27,18.40 L285.96,22.75 L284.64,27.09 L283.31,31.43 L281.96,35.77 L280.61,40.12 L279.25,44.46 L277.88,48.80 L276.49,53.15 L275.10,57.49 L273.70,61.83 L272.29,66.18 L270.86,70.52 L269.43,74.86 L267.99,79.21 L266.54,83.55 L265.07,87.89 L263.60,92.24 L262.12,96.58 L260.63,100.92 L259.12,105.27 L257.61,109.61 L256.09,113.95 L254.56,118.30 L253.01,122.64 L251.46,126.98 L249.90,131.32 L248.32,135.67 L246.74,140.01 L245.15,144.35 L243.55,148.70 L241.93,153.04 L240.31,157.38 L238.68,161.73 L237.04,166.07 L235.38,170.41 L233.72,174.76 L232.05,179.10 L230.36,183.44 L228.67,187.79 L226.97,192.13 L225.26,196.47 L224.27,198.96 L224.04,199.46 L223.76,199.92 L223.43,200.33 L223.05,200.70 L222.63,201.01 L222.17,201.28 L221.65,201.49 L220.99,201.73 L219.72,202.17 L218.46,202.61 L217.19,203.05 L215.92,203.48 L214.65,203.90 L213.38,204.32 L212.11,204.73 L210.84,205.13 L209.57,205.52 L208.30,205.90 L207.03,206.27 L205.76,206.63 L204.49,206.98 L203.22,207.30 L201.96,207.61 L200.69,207.89 L199.42,208.10 L185.82,208.20" stroke-opacity="0.68"/>
<path d="M297.70,-12.00 L296.47,-7.64 L295.23,-3.28 L293.97,1.09 L292.71,5.45 L291.43,9.81 L290.14,14.17 L288.84,18.54 L287.52,22.90 L286.20,27.26 L284.86,31.62 L283.52,35.99 L282.16,40.35 L280.79,44.71 L279.41,49.07 L278.01,53.43 L276.61,57.80 L275.19,62.16 L273.76,66.52 L272.32,70.88 L270.87,75.25 L269.41,79.61 L267.93,83.97 L266.45,88.33 L264.95,92.70 L263.44,97.06 L261.92,101.42 L260.38,105.78 L258.84,110.14 L257.28,114.51 L255.72,118.87 L254.14,123.23 L252.55,127.59 L250.94,131.96 L249.33,136.32 L247.70,140.68 L246.07,145.04 L244.42,149.41 L242.76,153.77 L241.09,158.13 L239.40,162.49 L237.71,166.85 L236.00,171.22 L234.28,175.58 L232.55,179.94 L230.81,184.30 L229.06,188.67 L227.29,193.03 L225.52,197.39 L224.49,199.90 L224.25,200.41 L223.96,200.86 L223.63,201.26 L223.25,201.61 L222.82,201.91 L222.35,202.16 L221.83,202.36 L221.25,202.55 L220.01,202.94 L218.76,203.32 L217.52,203.70 L216.28,204.07 L215.04,204.44 L213.80,204.81 L212.56,205.16 L211.32,205.51 L210.07,205.85 L208.83,206.18 L207.59,206.51 L206.35,206.82 L205.11,207.12 L203.87,207.41 L202.63,207.67 L201.38,207.91 L200.14,208.10 L181.21,208.20" stroke-opacity="0.51"/>
<path d="M300.37,-12.00 L299.18,-7.66 L297.97,-3.32 L296.74,1.02 L295.50,5.36 L294.25,9.69 L292.99,14.03 L291.71,18.37 L290.41,22.71 L289.10,27.05 L287.78,31.39 L286.44,35.73 L285.09,40.07 L283.73,44.40 L282.35,48.74 L280.96,53.08 L279.55,57.42 L278.13,61.76 L276.70,66.10 L275.25,70.44 L273.78,74.78 L272.31,79.11 L270.82,83.45 L269.31,87.79 L267.79,92.13 L266.26,96.47 L264.71,100.81 L263.15,105.15 L261.57,109.49 L259.98,113.82 L258.38,118.16 L256.76,122.50 L255.13,126.84 L253.48,131.18 L251.82,135.52 L250.15,139.86 L248.46,144.20 L246.76,148.53 L245.04,152.87 L243.31,157.21 L241.57,161.55 L239.81,165.89 L238.04,170.23 L236.25,174.57 L234.45,178.91 L232.63,183.24 L230.80,187.58 L228.96,191.92 L227.10,196.26 L227.01,196.47 L226.45,197.60 L225.80,198.62 L225.04,199.53 L224.18,200.33 L223.21,201.03 L222.15,201.63 L220.99,202.11 L219.94,202.45 L218.62,202.90 L217.30,203.34 L215.98,203.78 L214.65,204.21 L213.33,204.63 L212.01,205.04 L210.69,205.44 L209.36,205.84 L208.04,206.22 L206.72,206.59 L205.40,206.94 L204.08,207.28 L202.75,207.60 L201.43,207.88 L200.11,208.10 L183.85,208.20" stroke-opacity="0.80"/>
<path d="M299.37,-12.00 L298.16,-7.64 L296.93,-3.27 L295.69,1.09 L294.44,5.45 L293.17,9.82 L291.89,14.18 L290.60,18.54 L289.29,22.91 L287.97,27.27 L286.64,31.63 L285.29,36.00 L283.93,40.36 L282.56,44.72 L281.18,49.09 L279.78,53.45 L278.37,57.81 L276.94,62.18 L275.50,66.54 L274.05,70.90 L272.59,75.27 L271.11,79.63 L269.62,83.99 L268.11,88.36 L266.59,92.72 L265.06,97.08 L263.52,101.44 L261.96,105.81 L260.39,110.17 L258.80,114.53 L257.21,118.90 L255.60,123.26 L253.97,127.62 L252.33,131.99 L250.68,136.35 L249.02,140.71 L247.34,145.08 L245.65,149.44 L243.95,153.80 L242.23,158.17 L240.50,162.53 L238.76,166.89 L237.00,171.26 L235.23,175.62 L233.45,179.98 L231.65,184.35 L229.84,188.71 L228.02,193.07 L226.68,196.28 L225.94,197.78 L225.06,199.12 L224.05,200.32 L222.89,201.36 L221.60,202.24 L220.17,202.98 L218.60,203.55 L217.87,203.73 L216.57,204.10 L215.28,204.47 L213.99,204.83 L212.69,205.18 L211.40,205.53 L210.10,205.87 L208.81,206.20 L207.52,206.52 L206.22,206.83 L204.93,207.13 L203.63,207.41 L202.34,207.68 L201.05,207.92 L199.75,208.10 L178.07,208.20" stroke-opacity="0.40"/>
<path d="M265.68,-12.00 L264.70,-7.75 L263.73,-3.50 L262.75,0.75 L261.78,5.00 L260.80,9.24 L259.83,13.49 L258.86,17.74 L257.89,21.99 L256.91,26.24 L255.94,30.49 L254.97,34.74 L254.00,38.99 L253.03,43.24 L252.06,47.49 L251.09,51.73 L250.13,55.98 L249.16,60.23 L248.19,64.48 L247.22,68.73 L246.26,72.98 L245.29,77.23 L244.33,81.48 L243.36,85.73 L242.40,89.98 L241.43,94.22 L240.47,98.47 L239.51,102.72 L238.54,106.97 L237.58,111.22 L236.62,115.47 L235.66,119.72 L234.70,123.97 L233.74,128.22 L232.78,132.47 L231.82,136.71 L230.86,140.96 L229.90,145.21 L228.95,149.46 L227.99,153.71 L227.03,157.96 L226.08,162.21 L225.12,166.46 L224.16,170.71 L223.21,174.96 L222.26,179.20 L221.30,183.45 L220.35,187.70 L219.40,191.95 L218.88,194.25 L218.73,194.79 L218.53,195.29 L218.27,195.76 L217.97,196.19 L217.61,196.58 L217.20,196.94 L216.75,197.26 L216.04,197.69 L214.84,198.42 L213.64,199.14 L212.44,199.85 L211.24,200.55 L210.04,201.24 L208.84,201.92 L207.63,202.59 L206.43,203.25 L205.23,203.89 L204.03,204.51 L202.83,205.12 L201.63,205.70 L200.43,206.27 L199.23,206.80 L198.03,207.30 L196.83,207.75 L195.63,208.10 L179.58,208.20" stroke-opacity="0.40"/>
<path d="M217.9,190.5 h3.1 M229,190.5 h2.4" stroke="#777" stroke-width="0.6"/>
</g>
</g>
<g stroke-width="1" fill="none">
<path stroke="#808080" d="M43,17.6 V209"/>
<path stroke="#999" d="M42.5,208.5 H338.1"/>
<path stroke="#707070" d="M43,184.53 H46.1 M43,160.75 H46.1 M43,136.98 H46.1 M43,113.20 H46.1 M43,89.43 H46.1 M43,65.65 H46.1 M43,41.88 H46.1 M43,18.10 H46.1"/>
<path stroke="#707070" d="M92.40,205.4 V208.5 M141.45,205.4 V208.5 M190.50,205.4 V208.5 M239.55,205.4 V208.5 M288.60,205.4 V208.5 M337.65,205.4 V208.5"/>
</g>
<g font-size="10" fill="#1a1a1a" text-anchor="end">
<text x="34.5" y="21.7">400</text>
<text x="34.5" y="45.5">350</text>
<text x="34.5" y="69.2">300</text>
<text x="34.5" y="93.0">250</text>
<text x="34.5" y="116.8">200</text>
<text x="34.5" y="140.6">150</text>
<text x="34.5" y="164.3">100</text>
<text x="34.5" y="188.1">50</text>
<text x="34.5" y="211.9">0</text>
</g>
<g font-size="10" fill="#1a1a1a" text-anchor="middle">
<text x="43.6" y="223.8">0</text>
<text x="92.6" y="223.8">500</text>
<text x="141.7" y="223.8">1000</text>
<text x="190.7" y="223.8">1500</text>
<text x="239.8" y="223.8">2000</text>
<text x="288.8" y="223.8">2500</text>
<text x="337.9" y="223.8">3000</text>
</g>
<text x="191.2" y="240.3" font-size="11.5" fill="#1a1a1a" text-anchor="middle"><tspan font-weight="bold">Depth</tspan> [nm]</text>
<text transform="translate(10.4,113.3) rotate(-90)" font-size="11.5" fill="#1a1a1a" text-anchor="middle"><tspan font-weight="bold">Load</tspan> [mN]</text>
<g font-size="10.2" font-style="italic" fill="#959595">
<text x="225.8" y="9.5">crossing</text>
<text x="276.4" y="10.5">between crossing</text>
</g>
</svg>
</body></html>
